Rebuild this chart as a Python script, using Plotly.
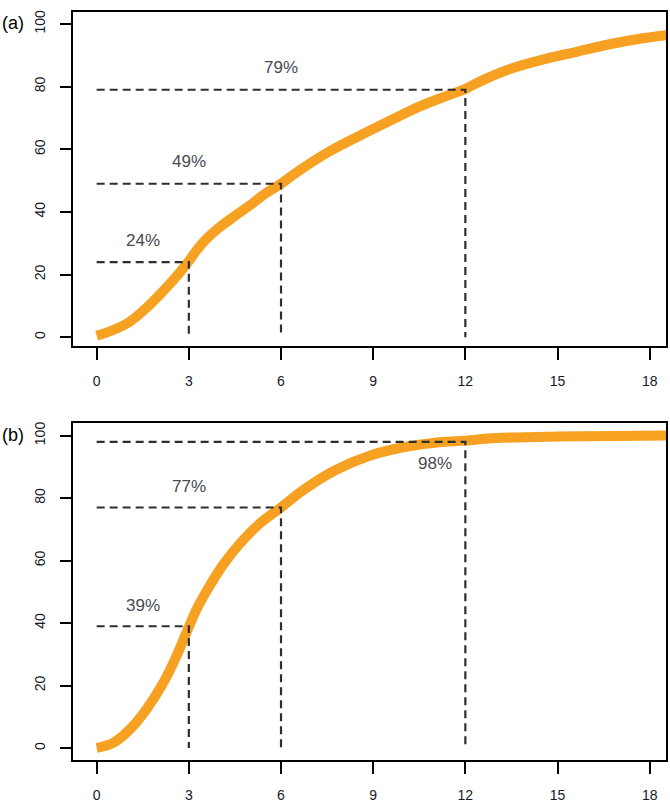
import plotly.graph_objects as go
from plotly.subplots import make_subplots

# Cumulative share (%) over time (months), panel (a)
months_a = [0, 0.54, 1.08, 1.61, 2.15, 2.70, 3.0, 3.24, 3.56, 3.99, 4.54, 5.08, 5.51, 6.0,
            6.59, 7.57, 8.65, 9.52, 10.5, 11.35, 12.0, 12.64, 13.5, 14.58, 15.66, 16.74,
            17.83, 18.6]
cum_a = [0.5, 2.3, 5.0, 9.3, 14.6, 20.6, 24.3, 27.6, 31.3, 35.0, 39.0, 42.8, 46.0, 49.0,
         53.2, 59.3, 64.8, 69.0, 73.6, 76.9, 79.3, 82.4, 85.8, 88.8, 91.2, 93.6, 95.5, 96.5]

# Cumulative share (%) over time (months), panel (b)
months_b = [0, 0.54, 1.08, 1.61, 2.15, 2.59, 3.0, 3.24, 3.67, 4.11, 4.65, 5.30, 6.0, 6.70,
            7.78, 8.86, 9.94, 11.02, 12.0, 13.0, 15.0, 17.0, 18.6]
cum_b = [0.1, 1.7, 6.0, 12.3, 20.6, 29.3, 38.8, 44.2, 51.8, 58.6, 65.3, 71.8, 77.0, 82.4,
         89.0, 93.5, 96.2, 97.7, 98.4, 99.2, 99.7, 99.9, 100.0]

# Reference months and the cumulative share reached at each
ref_months = [3, 6, 12]
pct_a = [24, 49, 79]
pct_b = [39, 77, 98]

x_ticks = [0, 3, 6, 9, 12, 15, 18]
y_ticks = [0, 20, 40, 60, 80, 100]
panel_tags = ["(a)", "(b)"]

ORANGE = "#F7A123"
DASH_COL = "#2e2e2e"
TEXT_COL = "#4a4a52"
FONT = "Liberation Sans, Arial, sans-serif"

fig = make_subplots(rows=2, cols=1, vertical_spacing=0.1)

panels = [
    (months_a, cum_a, pct_a, [(0.5, 7), (0.5, 7), (0.5, 7)]),
    (months_b, cum_b, pct_b, [(0.5, 6.6), (0.5, 6.6), (None, -7)]),
]

for row, (mx, cy, pcts, offs) in enumerate(panels, start=1):
    fig.add_trace(go.Scatter(x=mx, y=cy, mode="lines",
                             line=dict(color=ORANGE, width=10, shape="spline", smoothing=1.0),
                             showlegend=False, hoverinfo="skip"), row=row, col=1)
    for t, v, (fx, dy) in zip(ref_months, pcts, offs):
        fig.add_trace(go.Scatter(x=[0, t, t], y=[v, v, 0], mode="lines",
                                 line=dict(color=DASH_COL, width=2.2, dash="8px,5px"),
                                 showlegend=False, hoverinfo="skip"), row=row, col=1)
        lx = t * fx if fx is not None else t - 1.0
        fig.add_annotation(x=lx, y=v + dy, text=f"{v}%", showarrow=False,
                           font=dict(family=FONT, size=17, color=TEXT_COL),
                           row=row, col=1)

axis_common = dict(showgrid=False, zeroline=False, showline=True, linecolor="black",
                   linewidth=2, mirror=True, ticks="outside", tickcolor="black",
                   tickwidth=2, tickfont=dict(family=FONT, size=14, color="#14182a"))

fig.update_xaxes(range=[-0.77, 18.53], tickvals=x_ticks, ticklen=12,
                 ticklabelstandoff=9, **axis_common)
fig.update_yaxes(tickvals=y_ticks, ticklen=11, tickangle=-90,
                 ticklabelstandoff=9, **axis_common)

fig.update_yaxes(range=[-2.86, 103.9], domain=[0.5525, 0.999], row=1, col=1)
fig.update_yaxes(range=[-3.8, 104.1], domain=[0.0, 0.4502], row=2, col=1)

# Panel tags
for tag, ypix in zip(panel_tags, [23, 437]):
    fig.add_annotation(xref="paper", yref="paper", x=-73 / 595, xanchor="left",
                       y=(764 - ypix) / 753, yanchor="middle", text=tag, showarrow=False,
                       font=dict(family=FONT, size=18, color="black"))

fig.update_layout(width=670, height=805, margin=dict(l=73, r=2, t=11, b=41),
                  plot_bgcolor="white", paper_bgcolor="white",
                  font=dict(family=FONT))

fig.write_html("out.html")
